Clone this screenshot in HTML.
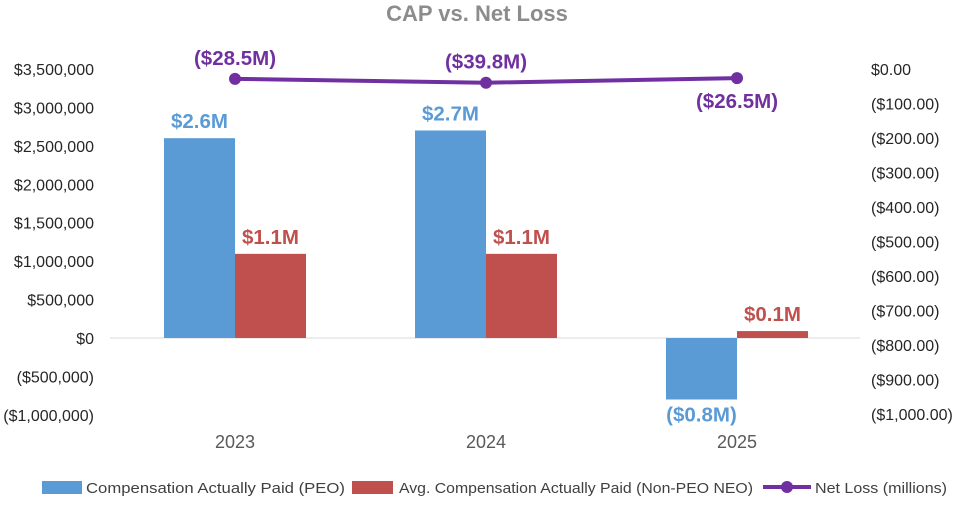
<!DOCTYPE html>
<html><head><meta charset="utf-8"><style>
body{margin:0;background:#fff;width:955px;height:500px;overflow:hidden;font-family:"Liberation Sans",Arial,sans-serif}
</style></head><body>
<svg id="chart" width="955" height="500" xmlns="http://www.w3.org/2000/svg" font-family="Liberation Sans, Arial, sans-serif"></svg>
<script>
const years=["2023","2024","2025"];
const peoValues=[2600000,2700000,-800000];
const neoValues=[1095000,1095000,90000];
const netLoss=[-28.5,-39.8,-26.5];
const peoLabels=["$2.6M","$2.7M","($0.8M)"];
const neoLabels=["$1.1M","$1.1M","$0.1M"];
const lossLabels=["($28.5M)","($39.8M)","($26.5M)"];
const leftTicks=[3500000,3000000,2500000,2000000,1500000,1000000,500000,0,-500000,-1000000];
const rightTicks=[0,-100,-200,-300,-400,-500,-600,-700,-800,-900,-1000];

const svg=document.getElementById('chart');
const NS="http://www.w3.org/2000/svg";
function yL(v){return 338-v*(269/3500000);}
function yR(v){return 69-v*(345/1000);}
function xC(i){return 235+i*251;}
function mk(tag,attrs,parent){const e=document.createElementNS(NS,tag);for(const k in attrs)e.setAttribute(k,attrs[k]);(parent||svg).appendChild(e);return e;}
function fmtL(v){const s="$"+Math.abs(v).toLocaleString("en-US");return v<0?"("+s+")":s;}
function fmtR(v){const s="$"+Math.abs(v).toLocaleString("en-US",{minimumFractionDigits:2,maximumFractionDigits:2});return v<0?"("+s+")":s;}

let t=mk('text',{x:477,y:21,'text-anchor':'middle','font-size':22,'font-weight':'bold',fill:'#8c8c8c'});
t.textContent="CAP vs. Net Loss";



let zl=mk('line',{x1:110,x2:860,y1:yL(0),y2:yL(0),stroke:'#d9d9d9','stroke-width':1});



leftTicks.forEach(v=>{const e=mk('text',{x:94,y:yL(v)+6,'text-anchor':'end','font-size':16,fill:'#262626'});e.textContent=fmtL(v);

});
rightTicks.forEach(v=>{const e=mk('text',{x:871,y:yR(v)+6,'text-anchor':'start','font-size':16,fill:'#262626'});e.textContent=fmtR(v);

});

years.forEach((y,i)=>{
 const c=xC(i);
 const p=peoValues[i],n=neoValues[i];
 let b=mk('rect',{x:c-71,y:Math.min(yL(p),yL(0)),width:71,height:Math.abs(yL(p)-yL(0)),fill:'#5b9bd5'});
 
 
 let r=mk('rect',{x:c,y:Math.min(yL(n),yL(0)),width:71,height:Math.abs(yL(n)-yL(0)),fill:'#c0504d'});
 
 
 let pl=mk('text',{x:c-35.5,y:p>=0?yL(p)-10:yL(p)+22,'text-anchor':'middle','font-size':20.5,'font-weight':'bold',fill:'#5b9bd5'});
 pl.textContent=peoLabels[i];
 
 
 let nl=mk('text',{x:c+35.5,y:yL(n)-10,'text-anchor':'middle','font-size':20.5,'font-weight':'bold',fill:'#c0504d'});
 nl.textContent=neoLabels[i];
 
 
 let yl=mk('text',{x:c,y:448,'text-anchor':'middle','font-size':18,fill:'#595959'});
 yl.textContent=y;
 
 
});

let pts=netLoss.map((v,i)=>xC(i)+","+yR(v)).join(" ");
let pl=mk('polyline',{points:pts,fill:'none',stroke:'#7030a0','stroke-width':4});


netLoss.forEach((v,i)=>{
 let c=mk('circle',{cx:xC(i),cy:yR(v),r:6,fill:'#7030a0'});
 
 
 let ly=i<2?yR(v)-14:yR(v)+30;
 let l=mk('text',{x:xC(i),y:ly,'text-anchor':'middle','font-size':20.5,'font-weight':'bold',fill:'#7030a0'});
 l.textContent=lossLabels[i];
 
 
});

// legend
let g=mk('g',{});


let s1=mk('rect',{x:42,y:481,width:40,height:13,fill:'#5b9bd5'},g);


let t1=mk('text',{x:86,y:493,'font-size':15,fill:'#404040',textLength:259,lengthAdjust:'spacingAndGlyphs'},g);t1.textContent="Compensation Actually Paid (PEO)";


let s2=mk('rect',{x:352,y:481,width:41,height:13,fill:'#c0504d'},g);


let t2=mk('text',{x:399,y:493,'font-size':15,fill:'#404040',textLength:354,lengthAdjust:'spacingAndGlyphs'},g);t2.textContent="Avg. Compensation Actually Paid (Non-PEO NEO)";


let s3=mk('line',{x1:763,x2:811,y1:487,y2:487,stroke:'#7030a0','stroke-width':4},g);


let s3c=mk('circle',{cx:787,cy:487,r:6,fill:'#7030a0'},g);


let t3=mk('text',{x:815,y:493,'font-size':15,fill:'#404040',textLength:132,lengthAdjust:'spacingAndGlyphs'},g);t3.textContent="Net Loss (millions)";


</script>
</body></html>
